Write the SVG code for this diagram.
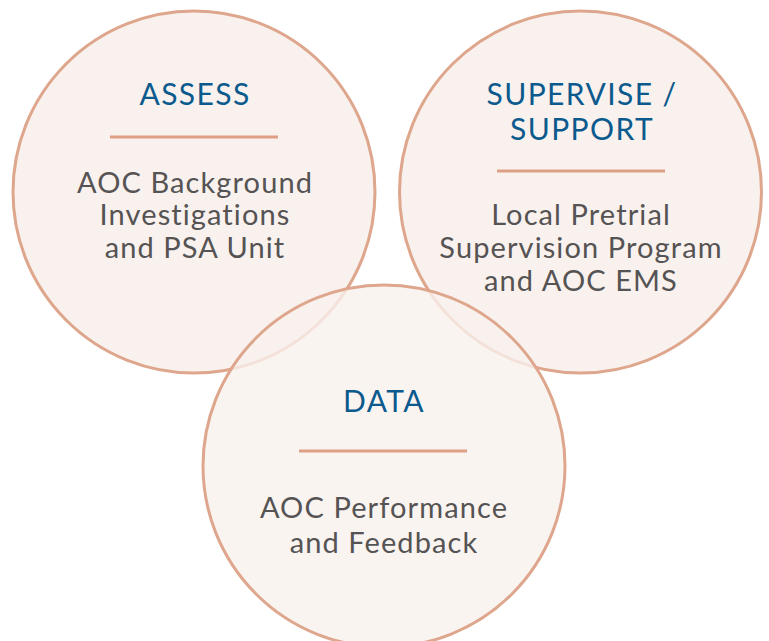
<svg xmlns="http://www.w3.org/2000/svg" width="769" height="641" viewBox="0 0 769 641">
<style>
.c{fill:#f9f1ed;stroke:#dea68c;stroke-width:3}
.cb{fill:#f9f1ed;fill-opacity:0.8;stroke:#dea68c;stroke-width:3}
.t{font-family:Lato,"Noto Sans",sans-serif;font-size:30px;letter-spacing:1.4px;fill:#0b5a8e;text-anchor:middle}
.b{font-family:Lato,"Noto Sans",sans-serif;font-size:29px;letter-spacing:1.1px;fill:#555353;text-anchor:middle}
.r{stroke:#dea085;stroke-width:3}
</style>
<rect width="769" height="641" fill="#ffffff"/>
<g id="assess">
<circle class="c" cx="194" cy="192" r="181"/>
<text class="t" x="195" y="105">ASSESS</text>
<line class="r" x1="110" y1="137" x2="278" y2="137"/>
<text class="b" x="195" y="193">AOC Background</text>
<text class="b" x="195" y="225">Investigations</text>
<text class="b" x="195" y="258">and PSA Unit</text>
</g>
<g id="supervise">
<circle class="c" cx="580.5" cy="192" r="181"/>
<text class="t" x="582" y="105">SUPERVISE /</text>
<text class="t" x="582" y="140">SUPPORT</text>
<line class="r" x1="497" y1="171" x2="665" y2="171"/>
<text class="b" x="581" y="225">Local Pretrial</text>
<text class="b" x="581" y="258">Supervision Program</text>
<text class="b" x="581" y="291">and AOC EMS</text>
</g>
<g id="data">
<circle class="cb" cx="384" cy="466" r="181"/>
<text class="t" x="384" y="412">DATA</text>
<line class="r" x1="299" y1="451" x2="467" y2="451"/>
<text class="b" x="384" y="518">AOC Performance</text>
<text class="b" x="384" y="553">and Feedback</text>
</g>
<g id="connectors"/>
</svg>
